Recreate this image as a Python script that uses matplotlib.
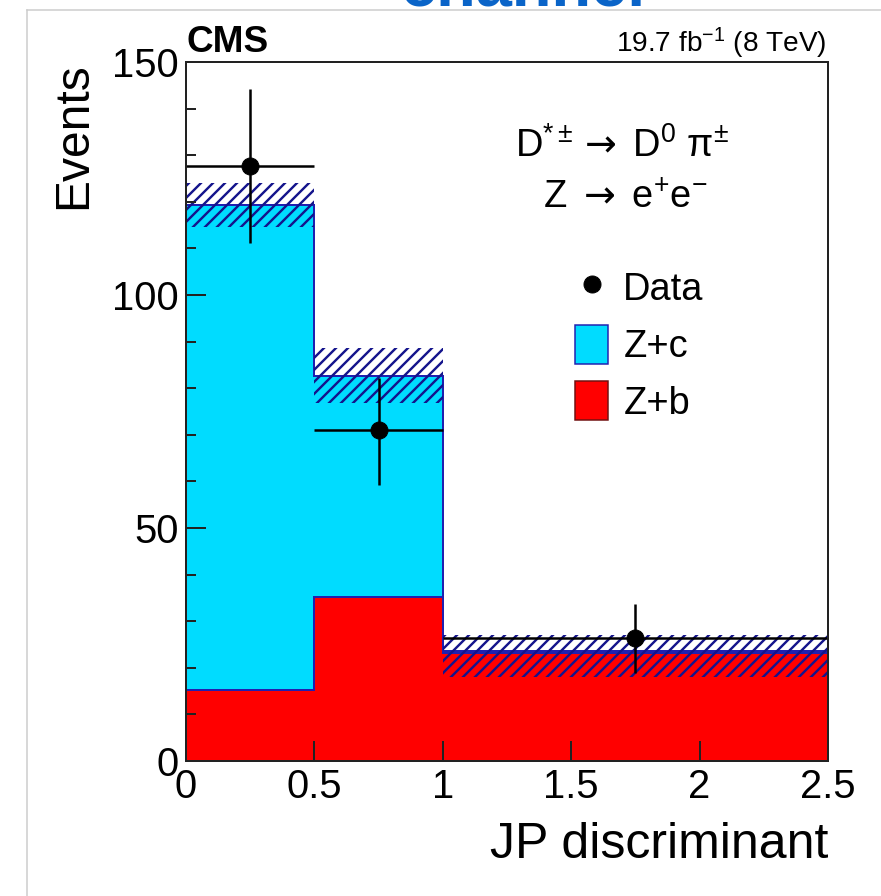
import matplotlib.pyplot as plt
from matplotlib.patches import Patch
from matplotlib.lines import Line2D
from matplotlib.ticker import MultipleLocator
import numpy as np

# JP discriminant bins and fitted yields
edges = [0.0, 0.5, 1.0, 2.5]
zb = [15.2, 35.2, 23.2]          # Z+b
zc = [104.1, 47.4, 0.4]          # Z+c stacked on top
band_lo = [114.6, 76.8, 18.0]    # total uncertainty band
band_hi = [124.0, 88.6, 27.0]
data = [127.7, 71.0, 26.4]
data_err_lo = [16.5, 11.8, 7.5]
data_err_hi = [16.5, 11.2, 7.3]

x_ticks = [0, 0.5, 1, 1.5, 2, 2.5]
x_ticklabels = ['0', '0.5', '1', '1.5', '2', '2.5']
y_ticks = [0, 50, 100, 150]
legend_labels = ['Data', 'Z+c', 'Z+b']

CYAN = '#00dcff'
RED = '#ff0000'
HATCH = '#14148c'

plt.rcParams['font.family'] = ['Liberation Sans', 'DejaVu Sans']
plt.rcParams['mathtext.fontset'] = 'custom'
plt.rcParams['mathtext.rm'] = 'Liberation Sans'
plt.rcParams['mathtext.it'] = 'Liberation Sans:italic'
plt.rcParams['mathtext.bf'] = 'Liberation Sans:bold'
plt.rcParams['mathtext.sf'] = 'DejaVu Sans'
plt.rcParams['hatch.linewidth'] = 2.4

W, H = 881, 896
fig = plt.figure(figsize=(W / 72, H / 72), dpi=72)
ax = fig.add_axes([186 / W, 1 - 761 / H, (828 - 186) / W, (761 - 62) / H])

# stacked templates
ax.stairs(zb, edges, baseline=0, fill=True, facecolor=RED, edgecolor='#701010', linewidth=2)
top = np.add(zb, zc)
ax.stairs(top, edges, baseline=zb, fill=True, facecolor=CYAN, edgecolor='#2020b0', linewidth=2)

# uncertainty band, hatched
ax.stairs(band_hi, edges, baseline=band_lo, fill=True, facecolor='none',
          edgecolor=HATCH, linewidth=0, hatch='//')

centers = 0.5 * (np.array(edges[:-1]) + np.array(edges[1:]))
half = 0.5 * np.diff(edges)
ax.errorbar(centers, data, xerr=half, yerr=[data_err_lo, data_err_hi], fmt='o',
            color='black', ms=17, elinewidth=2.5, capsize=0, zorder=5)

ax.set_xlim(0, 2.5)
ax.set_ylim(0, 150)
ax.set_xticks(x_ticks)
ax.set_xticklabels(x_ticklabels)
ax.set_yticks(y_ticks)
ax.yaxis.set_minor_locator(MultipleLocator(10))
ax.tick_params(axis='both', which='major', direction='in', length=20, width=2,
               labelsize=40, top=False, right=False, color='#222222')
ax.tick_params(axis='y', which='minor', direction='in', length=10, width=2, right=False,
               color='#222222')
ax.tick_params(axis='x', which='major', pad=7)
ax.tick_params(axis='y', which='major', pad=7)
for s in ax.spines.values():
    s.set_linewidth(2)
    s.set_color('#222222')
    s.set_zorder(6)

handles = [Line2D([], [], marker='o', ls='none', color='black', ms=17),
           Patch(facecolor=CYAN, edgecolor='#2020b0', lw=1.5),
           Patch(facecolor=RED, edgecolor='#701010', lw=1.5)]
ax.legend(handles, legend_labels, loc='upper left', bbox_to_anchor=(575 / W, 1 - 268 / H),
          bbox_transform=fig.transFigure, frameon=False, fontsize=38, handlelength=0.87,
          handleheight=1.2, handletextpad=0.4, labelspacing=0.43, borderpad=0,
          borderaxespad=0)

fig.text(622 / W, 1 - 157 / H, r'D$^{*\pm}$$\mathsf{\rightarrow}$ D$^{0}$ π$^{\pm}$', fontsize=38,
         ha='center', va='baseline')
fig.text(625 / W, 1 - 208 / H, r'Z $\mathsf{\rightarrow}$ e$^{+}$e$^{-}$', fontsize=38,
         ha='center', va='baseline')

fig.text(186 / W, 1 - 52 / H, 'CMS', fontsize=37, fontweight='bold', ha='left', va='baseline')
fig.text(826 / W, 1 - 52 / H, r'19.7 fb$^{-1}$ (8 TeV)', fontsize=28, ha='right', va='baseline')
fig.text(74 / W, 1 - 62 / H, 'Events', rotation=90, fontsize=48, ha='center', va='top')
fig.text(828 / W, 1 - 858 / H, 'JP discriminant', fontsize=50, ha='right', va='baseline')

# cut-off panel title and page frame
fig.text(523 / W, 1 - 6 / H, 'channel', fontsize=65, fontweight='bold', color='#0a64c8',
         ha='center', va='baseline')
fig.add_artist(Line2D([27 / W, 27 / W], [0, 1 - 10 / H], color='#cccccc', lw=1.5))
fig.add_artist(Line2D([27 / W, 1], [1 - 10 / H, 1 - 10 / H], color='#cccccc', lw=1.5))

fig.savefig('out.png', dpi=72)
